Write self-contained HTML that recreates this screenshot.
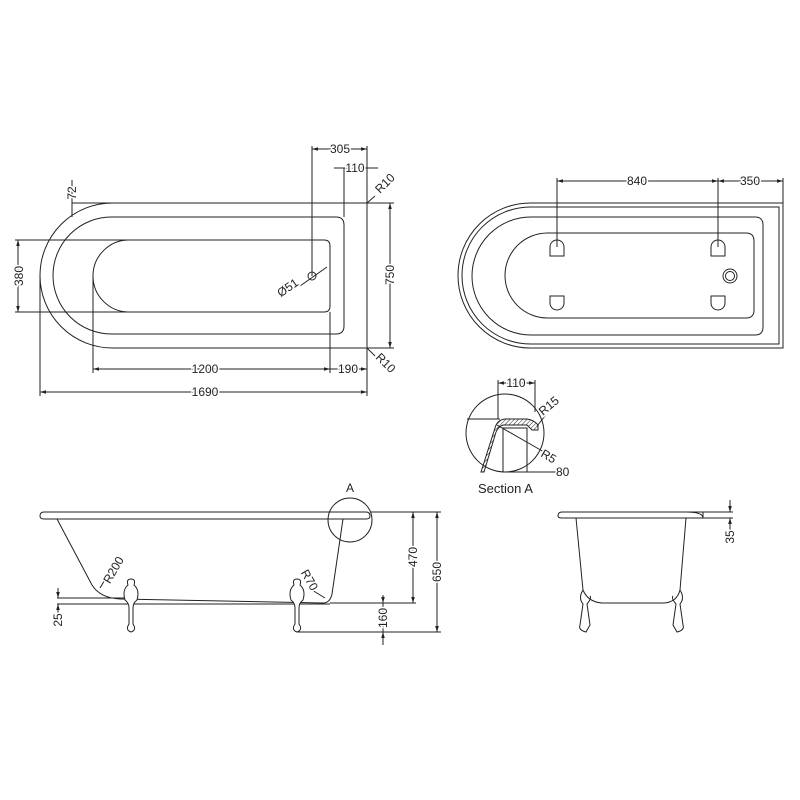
<!DOCTYPE html>
<html><head><meta charset="utf-8"><style>
html,body{margin:0;padding:0;background:#fff}
svg{display:block}
text{font-family:"Liberation Sans",sans-serif;font-size:12px;fill:#222;paint-order:stroke;stroke:#fff;stroke-width:3px}
</style></head><body>
<svg width="800" height="800" viewBox="0 0 800 800" xmlns="http://www.w3.org/2000/svg">
<defs>
<marker id="a" viewBox="0 0 10 10" refX="10" refY="5" markerWidth="6" markerHeight="6" orient="auto-start-reverse"><path d="M0,2 L10,5 L0,8z" fill="#222"/></marker>
<pattern id="h" width="3" height="3" patternUnits="userSpaceOnUse" patternTransform="rotate(45)"><line x1="0" y1="0" x2="0" y2="3" stroke="#222" stroke-width="1"/></pattern>
</defs>
<g fill="none" stroke="#222" stroke-width="1">
<path d="M112.5,203 H367 V348 H112.5 A72.5,72.5 0 0 1 112.5,203Z"/>
<path d="M111.5,217 H336 Q344,217 344,225 V326 Q344,334 336,334 H111.5 A58.5,58.5 0 0 1 111.5,217Z"/>
<path d="M129,240 H324 Q330,240 330,246 V306 Q330,312 324,312 H129 A36,36 0 0 1 129,240Z"/>
<circle cx="312" cy="276" r="4"/>
<line x1="300" y1="286" x2="327" y2="267"/>
<line x1="312" y1="146" x2="312" y2="276"/>
<line x1="312" y1="149" x2="367" y2="149" marker-start="url(#a)" marker-end="url(#a)"/>
<line x1="367" y1="146" x2="367" y2="203"/>
<line x1="344" y1="168" x2="344" y2="217"/>
<line x1="334" y1="168" x2="378" y2="168"/>
<line x1="367" y1="203" x2="375" y2="196"/>
<line x1="367" y1="348" x2="375" y2="356"/>
<line x1="367" y1="203" x2="394" y2="203"/>
<line x1="367" y1="348" x2="394" y2="348"/>
<line x1="390" y1="203" x2="390" y2="348" marker-start="url(#a)" marker-end="url(#a)"/>
<line x1="15" y1="240" x2="129" y2="240"/>
<line x1="15" y1="312" x2="129" y2="312"/>
<line x1="18" y1="240" x2="18" y2="312" marker-start="url(#a)" marker-end="url(#a)"/>
<line x1="72" y1="180" x2="72" y2="217"/>
<line x1="72" y1="203" x2="140" y2="203"/>
<line x1="93" y1="276" x2="93" y2="373"/>
<line x1="330" y1="312" x2="330" y2="373"/>
<line x1="367" y1="348" x2="367" y2="396"/>
<line x1="93" y1="369" x2="330" y2="369" marker-start="url(#a)" marker-end="url(#a)"/>
<line x1="330" y1="369" x2="367" y2="369" marker-end="url(#a)"/>
<line x1="40" y1="276" x2="40" y2="396"/>
<line x1="40" y1="392" x2="367" y2="392" marker-start="url(#a)" marker-end="url(#a)"/>

<path d="M530.5,203 H783 V348 H530.5 A72.5,72.5 0 0 1 530.5,203Z"/>
<path d="M530.5,207 H779 V344 H530.5 A68.5,68.5 0 0 1 530.5,207Z"/>
<path d="M531,217 H755 Q763,217 763,225 V327 Q763,335 755,335 H531 A59,59 0 0 1 531,217Z"/>
<path d="M547.5,233 H746 Q754,233 754,241 V310 Q754,318 746,318 H547.5 A42.5,42.5 0 0 1 547.5,233Z"/>
<path d="M550,256 V247 A7,7 0 0 1 564,247 V256Z"/>
<path d="M711,256 V247 A7,7 0 0 1 725,247 V256Z"/>
<path d="M550,296 V303 A7,7 0 0 0 564,303 V296Z"/>
<path d="M711,296 V303 A7,7 0 0 0 725,303 V296Z"/>
<circle cx="730" cy="276" r="7"/><circle cx="730" cy="276" r="4.5"/>
<line x1="557" y1="178" x2="557" y2="247"/>
<line x1="718" y1="178" x2="718" y2="247"/>
<line x1="783" y1="178" x2="783" y2="203"/>
<line x1="557" y1="181" x2="718" y2="181" marker-start="url(#a)" marker-end="url(#a)"/>
<line x1="718" y1="181" x2="783" y2="181" marker-start="url(#a)" marker-end="url(#a)"/>

<circle cx="505" cy="433" r="39"/>
<line x1="467" y1="419" x2="500" y2="419"/>
<path d="M481,472 L495,428 Q497,420 505,419 L527,419 Q534,420 538,425 L538,430 L532,430 L527,425 L503,425 Q498,427 496,432 L484,472Z" fill="url(#h)"/>
<rect x="503" y="428" width="24" height="44"/>
<line x1="498" y1="380" x2="498" y2="419"/>
<line x1="535" y1="380" x2="535" y2="412"/>
<line x1="498" y1="383" x2="535" y2="383" marker-start="url(#a)" marker-end="url(#a)"/>
<line x1="537" y1="426" x2="545" y2="416"/>
<line x1="497" y1="425" x2="544" y2="452"/>
<line x1="503" y1="472" x2="556" y2="472"/>

<path d="M44,512 H366 Q370,512 370,516 Q370,519 366,519 H44 Q40,519 40,516 Q40,512 44,512Z"/>
<path d="M57,519 L92,585 Q100,598 120,599 L323,603 Q330,603 332,594 L343,519"/>
<line x1="57" y1="598" x2="125" y2="598"/>
<line x1="57" y1="604" x2="330" y2="604"/>
<path d="M125,600 Q122,590 128,585 Q126,579 131,579 Q136,579 134,585 Q140,590 137,600 Q133,603 133,608 L133,624 Q137,630 131,632 Q125,630 129,624 L129,608 Q129,603 125,600Z" fill="#fff"/>
<path d="M291,600 Q288,590 294,585 Q292,579 297,579 Q302,579 300,585 Q306,590 303,600 Q299,603 299,608 L299,624 Q303,630 297,632 Q291,630 295,624 L295,608 Q295,603 291,600Z" fill="#fff"/>
<circle cx="350" cy="520" r="22"/>
<line x1="370" y1="512" x2="441" y2="512"/>
<line x1="330" y1="603" x2="416" y2="603"/>
<line x1="297" y1="632" x2="441" y2="632"/>
<line x1="413" y1="512" x2="413" y2="603" marker-start="url(#a)" marker-end="url(#a)"/>
<line x1="437" y1="512" x2="437" y2="632" marker-start="url(#a)" marker-end="url(#a)"/>
<line x1="383" y1="595" x2="383" y2="603" marker-end="url(#a)"/>
<line x1="383" y1="645" x2="383" y2="632" marker-end="url(#a)"/>
<line x1="383" y1="603" x2="383" y2="632"/>
<line x1="58" y1="588" x2="58" y2="598" marker-end="url(#a)"/>
<line x1="58" y1="614" x2="58" y2="604" marker-end="url(#a)"/>
<line x1="100" y1="588" x2="112" y2="568"/>
<line x1="312" y1="590" x2="325" y2="598"/>

<path d="M562,512 H703 V518 H562 Q558,518 558,516 Q558,512 562,512Z"/>
<path d="M686,512 Q703,512 703,518"/>
<path d="M576,518 L583,590 Q588,602 602,603 L664,603 Q677,602 680,590 L686,518"/>
<path d="M583,590 Q578,598 583,604 L580,625 Q578,630 586,632 L590,625 L587,604 Q592,598 590,596"/>
<path d="M680,590 Q685,598 680,604 L683,625 Q685,630 677,632 L673,625 L676,604 Q671,598 673,596"/>
<line x1="703" y1="512" x2="733" y2="512"/>
<line x1="703" y1="518" x2="733" y2="518"/>
<line x1="730" y1="500" x2="730" y2="512" marker-end="url(#a)"/>
<line x1="730" y1="530" x2="730" y2="518" marker-end="url(#a)"/>
</g>
<g>
<text x="340" y="153" text-anchor="middle">305</text>
<text x="355" y="172" text-anchor="middle">110</text>
<text x="380" y="194" transform="rotate(-45 380 194)">R10</text>
<text x="375" y="358" transform="rotate(45 375 358)">R10</text>
<text transform="translate(394,275) rotate(-90)" text-anchor="middle">750</text>
<text transform="translate(23,276) rotate(-90)" text-anchor="middle">380</text>
<text transform="translate(76,193) rotate(-90)" text-anchor="middle">72</text>
<text transform="translate(290,291) rotate(-35)" text-anchor="middle">Ø51</text>
<text x="205" y="373" text-anchor="middle">1200</text>
<text x="348" y="373" text-anchor="middle">190</text>
<text x="205" y="396" text-anchor="middle">1690</text>
<text x="637" y="185" text-anchor="middle">840</text>
<text x="750" y="185" text-anchor="middle">350</text>
<text x="516" y="387" text-anchor="middle">110</text>
<text x="543" y="416" transform="rotate(-40 543 416)">R15</text>
<text x="556" y="476">80</text>
<text x="540" y="456" transform="rotate(30 540 456)">R5</text>
<text x="478" y="493" style="font-size:13px">Section A</text>
<text x="350" y="492" text-anchor="middle">A</text>
<text transform="translate(417,557) rotate(-90)" text-anchor="middle">470</text>
<text transform="translate(441,572) rotate(-90)" text-anchor="middle">650</text>
<text transform="translate(387,618) rotate(-90)" text-anchor="middle">160</text>
<text transform="translate(62,620) rotate(-90)" text-anchor="middle">25</text>
<text transform="translate(117,572) rotate(-60)" text-anchor="middle">R200</text>
<text transform="translate(306,582) rotate(60)" text-anchor="middle">R70</text>
<text transform="translate(734,537) rotate(-90)" text-anchor="middle">35</text>
</g>
</svg>
</body></html>
